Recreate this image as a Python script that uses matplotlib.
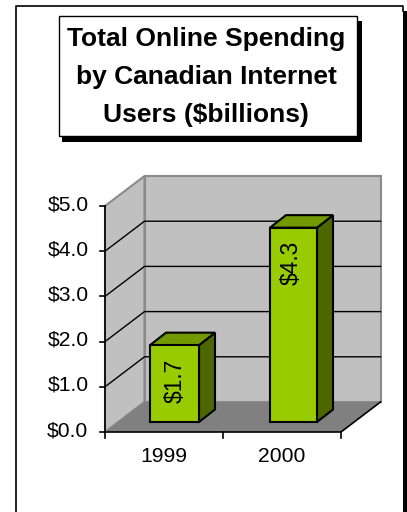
import matplotlib
matplotlib.use("Agg")
import matplotlib.pyplot as plt
from matplotlib.patches import Polygon, Rectangle

plt.rcParams['font.family'] = ['Liberation Sans', 'DejaVu Sans']

years = ['1999', '2000']
spending = [1.7, 4.3]
spending_labels = ['$1.7', '$4.3']
axis_values = [0.0, 1.0, 2.0, 3.0, 4.0, 5.0]
axis_labels = ['$0.0', '$1.0', '$2.0', '$3.0', '$4.0', '$5.0']
title = 'Total Online Spending\nby Canadian Internet\nUsers ($billions)'

# the whole figure is one axes measured in pixels, y going down
fig = plt.figure(figsize=(4.07, 5.12), dpi=100)
ax = fig.add_axes([0, 0, 1, 1])
ax.set_xlim(0, 407)
ax.set_ylim(512, 0)
ax.axis('off')

# 3d box of the plot
x_left, x_right = 105, 341
y_base = 432
per_unit = 45.2
dx, dy = 39.5, -30
bar_dx, bar_dy = 16, -12.5
bar_base = 422
bar_x = [(150, 199), (270, 317)]
label_font = 15.2


def ypos(v):
    return y_base - v * per_unit


def poly(pts, fc, ec='black', lw=1.5, z=2):
    ax.add_patch(Polygon(pts, closed=True, fc=fc, ec=ec, lw=lw, zorder=z, joinstyle='miter'))


# outer frame with its black edge on the right
ax.add_patch(Rectangle((403, 11), 5, 510, fc='black', ec='none', zorder=1))
ax.plot([16, 16, 402.5, 402.5], [512, 6, 6, 11], color='black', lw=1.2, zorder=1.5)

# title box
ax.add_patch(Rectangle((62, 21), 300, 121, fc='black', ec='none', zorder=1))
ax.add_patch(Rectangle((58.5, 16), 298, 119.5, fc='white', ec='black', lw=1, zorder=1.2))
ax.text(206, 77, title, ha='center', va='center', fontsize=19, fontweight='bold',
        linespacing=1.72, color='black', zorder=3)

# walls and floor
top = ypos(axis_values[-1])
poly([(x_left, top), (x_left + dx, top + dy), (x_left + dx, y_base + dy), (x_left, y_base)],
     '#c0c0c0', ec='#8a8a8a', lw=1.5, z=1)
poly([(x_left + dx, top + dy), (x_right + dx, top + dy), (x_right + dx, y_base + dy), (x_left + dx, y_base + dy)],
     '#c0c0c0', ec='#8a8a8a', lw=1.5, z=1)
poly([(x_left, y_base), (x_left + dx, y_base + dy), (x_right + dx, y_base + dy), (x_right, y_base)],
     '#808080', ec='none', z=1.1)

# gridlines run along the side wall and the back wall
for v in axis_values[1:-1]:
    y = ypos(v)
    ax.plot([x_left, x_left + dx, x_right + dx], [y, y + dy, y + dy], color='black', lw=1, zorder=1.2)

# value axis
ax.plot([x_left, x_left], [top, y_base], color='black', lw=1.2, zorder=1.3)
for v, lab in zip(axis_values, axis_labels):
    y = ypos(v)
    ax.plot([x_left - 5.5, x_left], [y, y], color='black', lw=1.2, zorder=1.3)
    ax.text(x_left - 16.5, y - 1.5, lab, ha='right', va='center', fontsize=label_font, color='black')

# category axis
mid = (x_left + x_right) / 2
ax.plot([x_left, x_right, x_right + dx], [y_base, y_base, y_base + dy], color='black', lw=1.2, zorder=1.3)
for x in (x_left, mid, x_right):
    ax.plot([x, x], [y_base, y_base + 6], color='black', lw=1.2, zorder=1.3)
for x, lab in zip(((x_left + mid) / 2, (mid + x_right) / 2), years):
    ax.text(x, 456, lab, ha='center', va='center', fontsize=label_font, color='black')

# bars
for (x0, x1), v, lab in zip(bar_x, spending, spending_labels):
    y1 = bar_base - v * per_unit
    poly([(x1, bar_base), (x1 + bar_dx, bar_base + bar_dy), (x1 + bar_dx, y1 + bar_dy), (x1, y1)], '#4d6600')
    poly([(x0, y1), (x0 + bar_dx, y1 + bar_dy), (x1 + bar_dx, y1 + bar_dy), (x1, y1)], '#739900')
    poly([(x0, bar_base), (x1, bar_base), (x1, y1), (x0, y1)], '#99cc00')
    if v > 3:
        ax.text((x0 + x1) / 2 - 2, y1 + 13, lab, rotation=90, ha='center', va='top', fontsize=16.4,
                color='black', zorder=3)
    else:
        ax.text((x0 + x1) / 2 + 1, (y1 + bar_base) / 2 - 2.5, lab, rotation=90, ha='center', va='center',
                fontsize=16.4, color='black', zorder=3)

fig.savefig('out.png', dpi=100, facecolor='white')
